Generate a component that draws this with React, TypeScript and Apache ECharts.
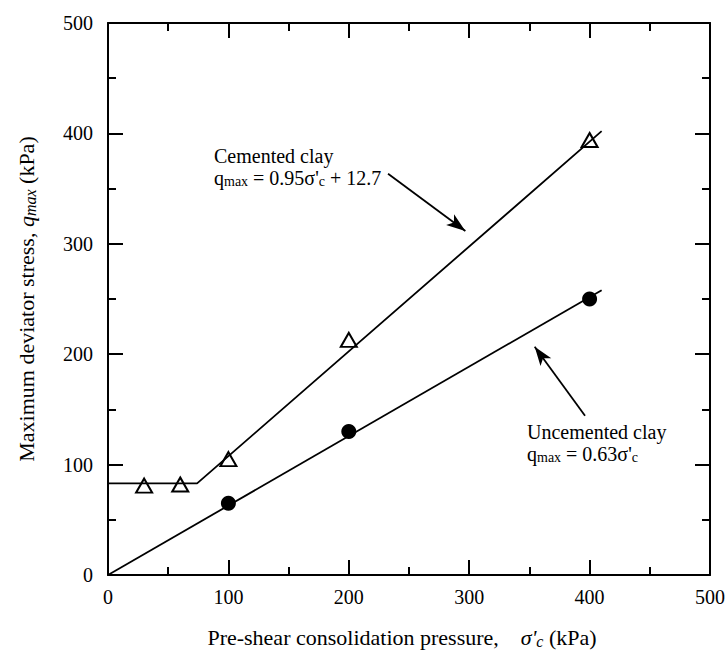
import React, { useEffect, useRef } from "react";
import * as echarts from "echarts";

const FONT = "'Liberation Serif', 'Times New Roman', serif";

const xTickMax = 500;
const yTickMax = 500;
const tickStep = 100;

const cementedX = [30, 60, 100, 200, 400];
const cementedY = [81, 82, 105, 213, 394];
const uncementedX = [100, 200, 400];
const uncementedY = [65, 130, 250];

const cementedFitX = [0, 74, 410];
const cementedFitY = [83, 83, 402];
const uncementedFitX = [0, 410];
const uncementedFitY = [0, 258];

const cementedArrow = [[232.6, 363.5], [296.8, 311.6]];
const uncementedArrow = [[396.2, 144.2], [354.4, 206.7]];

const cementedText = ["Cemented clay", "q{s|max} = 0.95σ'{s|c} + 12.7"];
const uncementedText = ["Uncemented clay", "q{s|max} = 0.63σ'{s|c}"];

const xTitle = "Pre-shear consolidation pressure,    {i|σ'}{is|c} (kPa)";
const yTitle = "Maximum deviator stress, {i|q}{is|max} (kPa)";

const zip = (xs: number[], ys: number[]) => xs.map((x, i) => [x, ys[i]]);

const annRich = {
  s: { fontSize: 14, fontFamily: FONT, color: "#000", lineHeight: 14, verticalAlign: "bottom" },
};

const annLines = (lines: string[], left: number, top: number) =>
  lines.map((t, k) => ({
    type: "text",
    left,
    top: top + k * 22,
    style: {
      text: t,
      fontSize: 20,
      fontFamily: FONT,
      fill: "#000",
      lineHeight: 20,
      rich: annRich,
    },
  }));

export default function App() {
  const ref = useRef<HTMLDivElement>(null);
  useEffect(() => {
    if (!ref.current) return;
    const chart = echarts.init(ref.current, undefined, { renderer: "svg" });
    const axisCommon = {
      type: "value",
      min: 0,
      interval: tickStep,
      splitLine: { show: false },
      axisLine: { show: true, onZero: false, lineStyle: { color: "#000", width: 2 } },
      axisTick: { show: true, inside: true, length: 15, lineStyle: { color: "#000", width: 2 } },
      minorTick: { show: true, splitNumber: 2, length: 8, lineStyle: { color: "#000", width: 2 } },
      minorSplitLine: { show: false },
    };
    const labelStyle = { color: "#000", fontSize: 20, fontFamily: FONT, showMinLabel: true, showMaxLabel: true };
    const titleRich = {
      i: { fontSize: 22, fontFamily: FONT, fontStyle: "italic", color: "#000", lineHeight: 23 },
      is: { fontSize: 16, fontFamily: FONT, fontStyle: "italic", color: "#000", lineHeight: 16, verticalAlign: "bottom" },
    };
    chart.setOption({
      animation: false,
      backgroundColor: "#fff",
      grid: { left: 108, right: 16, top: 23, bottom: 82, containLabel: false },
      xAxis: [
        {
          ...axisCommon,
          max: xTickMax,
          position: "bottom",
          axisLabel: { ...labelStyle, margin: 12 },
          name: xTitle,
          nameLocation: "middle",
          nameGap: 51,
          nameTextStyle: { color: "#000", fontSize: 22, fontFamily: FONT, lineHeight: 23, padding: [0, 14, 0, 0], rich: titleRich },
        },
        { ...axisCommon, max: xTickMax, position: "top", axisLabel: { show: false } },
      ],
      yAxis: [
        {
          ...axisCommon,
          max: yTickMax,
          position: "left",
          axisLabel: { ...labelStyle, margin: 15 },
          name: yTitle,
          nameLocation: "middle",
          nameGap: 70,
          nameRotate: 90,
          nameTextStyle: { color: "#000", fontSize: 22, fontFamily: FONT, lineHeight: 23, rich: titleRich },
        },
        { ...axisCommon, max: yTickMax, position: "right", axisLabel: { show: false } },
      ],
      series: [
        {
          type: "line",
          data: zip(cementedFitX, cementedFitY),
          showSymbol: false,
          symbol: "none",
          lineStyle: { color: "#000", width: 1.8 },
          z: 2,
          markLine: {
            silent: true,
            symbol: ["none", "arrow"],
            symbolSize: [10, 19],
            lineStyle: { color: "#000", width: 1.8, type: "solid", opacity: 1 },
            itemStyle: { color: "#000" },
            label: { show: false },
            data: [[{ coord: cementedArrow[0] }, { coord: cementedArrow[1] }]],
          },
        },
        {
          type: "line",
          data: zip(uncementedFitX, uncementedFitY),
          showSymbol: false,
          symbol: "none",
          lineStyle: { color: "#000", width: 1.8 },
          z: 2,
          markLine: {
            silent: true,
            symbol: ["none", "arrow"],
            symbolSize: [10, 19],
            lineStyle: { color: "#000", width: 1.8, type: "solid", opacity: 1 },
            itemStyle: { color: "#000" },
            label: { show: false },
            data: [[{ coord: uncementedArrow[0] }, { coord: uncementedArrow[1] }]],
          },
        },
        {
          type: "scatter",
          data: zip(cementedX, cementedY),
          symbol: "triangle",
          symbolSize: [16, 14],
          itemStyle: { color: "rgba(0,0,0,0)", borderColor: "#000", borderWidth: 2, opacity: 1 },
          z: 3,
        },
        {
          type: "scatter",
          data: zip(uncementedX, uncementedY),
          symbol: "circle",
          symbolSize: 15,
          itemStyle: { color: "#000", opacity: 1 },
          z: 3,
        },
      ],
      graphic: [
        ...annLines(cementedText, 214, 146),
        ...annLines(uncementedText, 527, 422),
      ],
    });
    return () => chart.dispose();
  }, []);
  return (
    <div
      ref={ref}
      style={{ position: "absolute", left: 0, top: 0, width: 728, height: 657, background: "#fff" }}
    />
  );
}
